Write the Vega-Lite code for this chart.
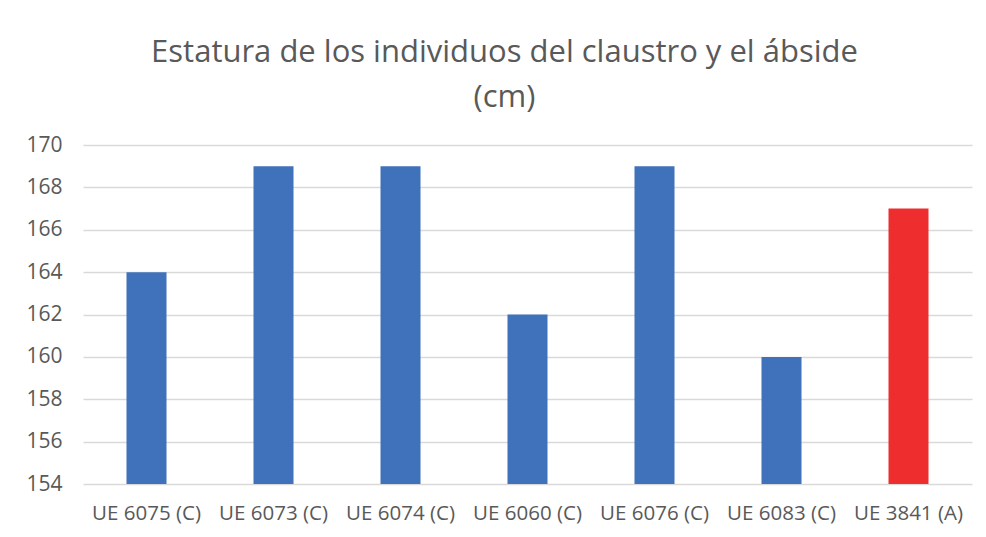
{
  "$schema": "https://vega.github.io/schema/vega-lite/v6.json",
  "autosize": "none",
  "width": 889,
  "height": 339,
  "padding": {"left": 83, "top": 145, "right": 14, "bottom": 53},
  "background": "white",
  "config": {"view": {"stroke": null}, "font": "Open Sans"},
  "title": {
    "text": ["Estatura de los individuos del claustro y el ábside", "(cm)"],
    "anchor": "middle",
    "dx": -23,
    "fontSize": 31,
    "fontWeight": "normal",
    "font": "Open Sans",
    "color": "#595959",
    "lineHeight": 45,
    "offset": 20
  },
  "data": {
    "values": [
      {"ue": "UE 6075 (C)", "estatura": 164, "grupo": "C"},
      {"ue": "UE 6073 (C)", "estatura": 169, "grupo": "C"},
      {"ue": "UE 6074 (C)", "estatura": 169, "grupo": "C"},
      {"ue": "UE 6060 (C)", "estatura": 162, "grupo": "C"},
      {"ue": "UE 6076 (C)", "estatura": 169, "grupo": "C"},
      {"ue": "UE 6083 (C)", "estatura": 160, "grupo": "C"},
      {"ue": "UE 3841 (A)", "estatura": 167, "grupo": "A"}
    ]
  },
  "mark": {"type": "bar", "clip": true},
  "encoding": {
    "x": {
      "field": "ue", "type": "nominal", "sort": null,
      "scale": {"paddingInner": 0.685, "paddingOuter": 0.3425},
      "axis": {"title": null, "labelAngle": 0, "labelFontSize": 20.5, "labelColor": "#595959", "labelPadding": 19, "labelOverlap": false, "domain": false, "ticks": false}
    },
    "y": {
      "field": "estatura", "type": "quantitative",
      "scale": {"domain": [154, 170], "zero": false, "nice": false},
      "axis": {"title": null, "values": [154,156,158,160,162,164,166,168,170], "labelFontSize": 21, "labelColor": "#595959", "labelPadding": 21, "domain": false, "ticks": false, "gridColor": "#d9d9d9", "gridWidth": 1.5}
    },
    "color": {
      "field": "grupo", "type": "nominal",
      "scale": {"domain": ["C", "A"], "range": ["#3F72BA", "#EE2E2E"]},
      "legend": null
    }
  }
}
